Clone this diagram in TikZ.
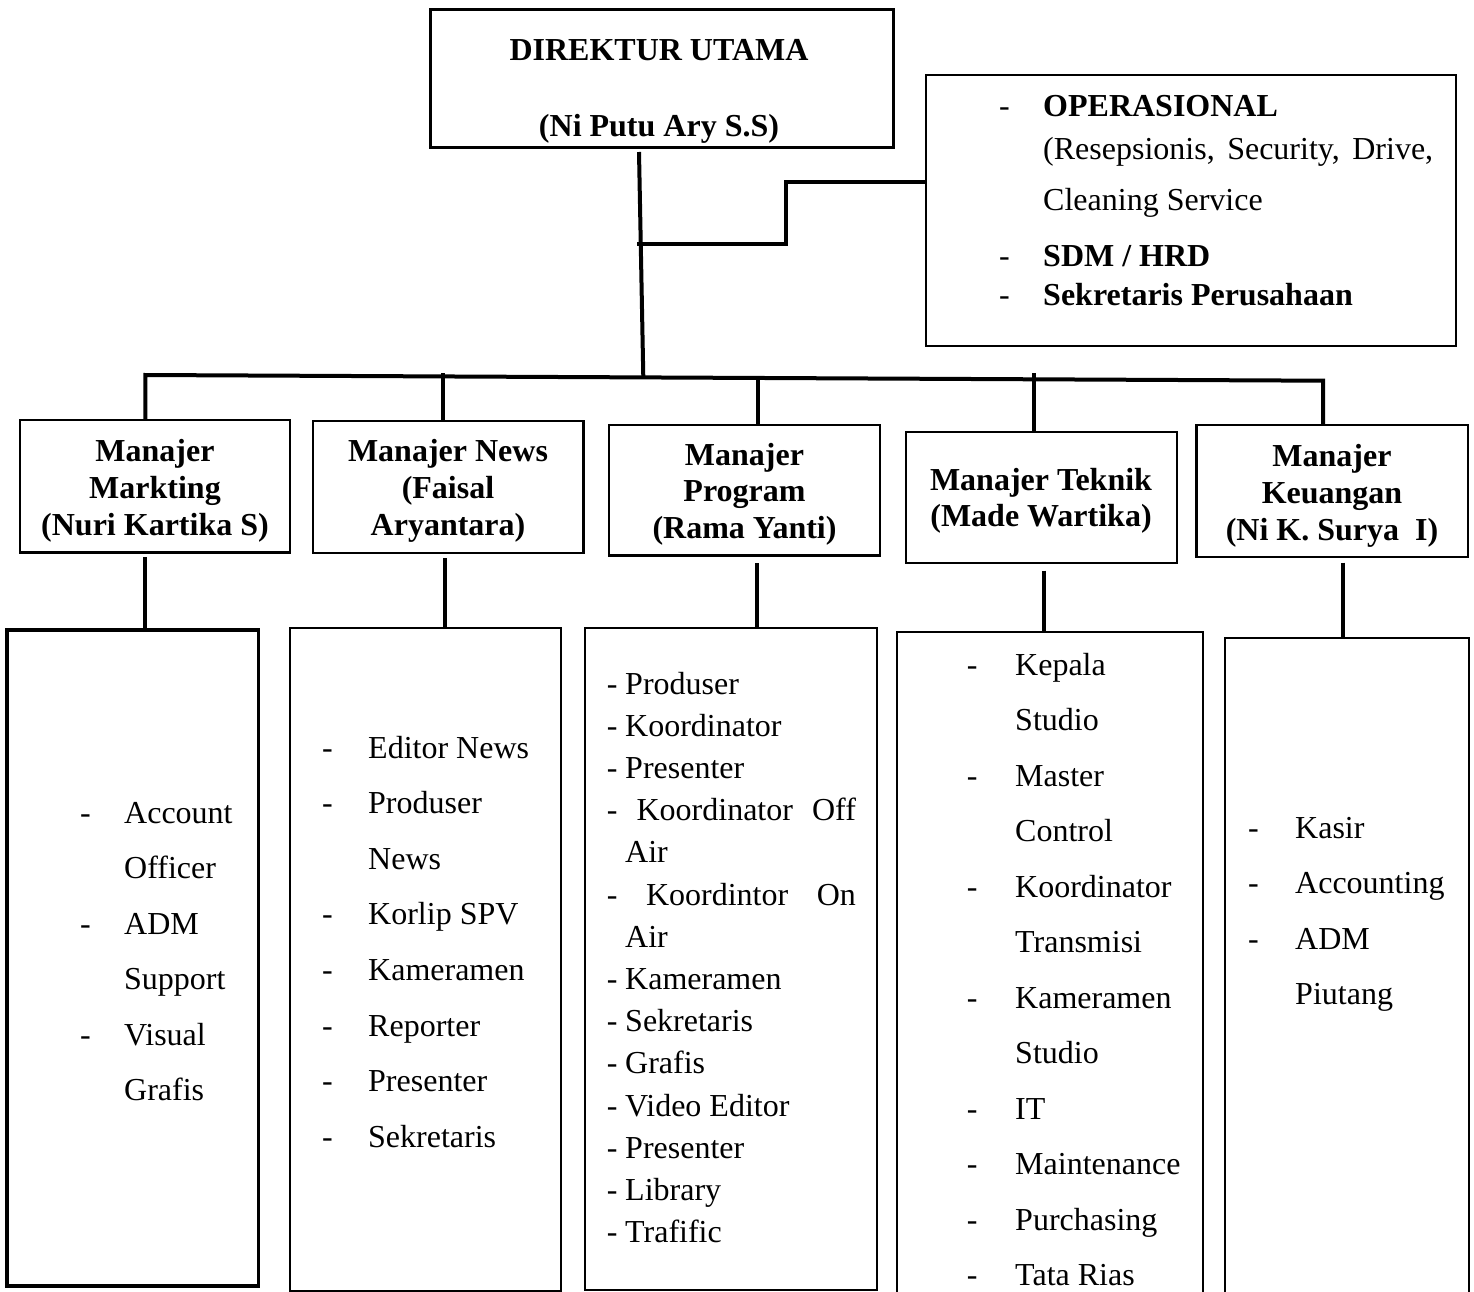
\documentclass[tikz,border=0pt]{standalone}
\usepackage{fontspec}
\setmainfont{Liberation Serif}
\newcommand\myfs{\fontsize{32}{38}\selectfont}
\tikzset{
  box/.style={draw=black, line width=2.5pt, inner sep=0pt, fill=none},
  conn/.style={draw=black, line width=4pt, line join=miter},
  txt/.style={anchor=base west, inner sep=0pt, font=\myfs},
  btxt/.style={anchor=base west, inner sep=0pt, font=\myfs\bfseries},
  ctr/.style={anchor=base, inner sep=0pt, font=\myfs\bfseries}
}
\begin{document}
\begin{tikzpicture}[x=1pt,y=-1pt]
\useasboundingbox (0,0) rectangle (1474,1292);
\fill[white] (0,0) rectangle (1474,1292);
\clip (0,0) rectangle (1474,1292);

% ---------- boxes ----------
\node[box, minimum width=463pt, minimum height=138pt, line width=3pt] (dir) at (661.5,79) {};
\node[box, minimum width=530pt, minimum height=271pt, line width=2pt] (ops) at (1191,210.5) {};

\node[box, minimum width=270pt, minimum height=132.5pt] (m1) at (155,486.25) {};
\node[box, minimum width=270.5pt, minimum height=132pt] (m2) at (448.25,487) {};
\node[box, minimum width=271pt, minimum height=130.5pt] (m3) at (744.5,490.25) {};
\node[box, minimum width=271pt, minimum height=131pt] (m4) at (1041.5,497.5) {};
\node[box, minimum width=271.5pt, minimum height=132pt] (m5) at (1332.25,491) {};

\node[box, minimum width=251.5pt, minimum height=656pt, line width=3.2pt] (b1) at (132.75,958) {};
\node[box, minimum width=271pt, minimum height=663pt] (b2) at (425.5,959.5) {};
\node[box, minimum width=292pt, minimum height=662pt] (b3) at (731,959) {};
\node[box, minimum width=306pt, minimum height=700pt] (b4) at (1050,982) {};
\node[box, minimum width=244pt, minimum height=700pt] (b5) at (1347,988) {};

% ---------- connectors ----------
\coordinate (dtop) at (639,152);
\coordinate (dj) at (643.3,377.5);
\draw[conn] (dtop) -- (dj);

\coordinate (s0) at (637,244.3);
\coordinate (s1) at (785.7,244.3);
\coordinate (s2) at (785.7,181.7);
\draw[conn] (s0) -- (s1) -- (s2) -- (s2 -| ops.west);

\coordinate (bl) at (145.3,375);
\coordinate (br) at (1323,380.7);
\draw[conn] (bl |- m1.north) -- (bl) -- (br) -- (br |- m5.north);
\coordinate (d2) at (443.4,373);
\coordinate (d3) at (757.5,377);
\coordinate (d4) at (1034,373);
\draw[conn] (d2) -- (d2 |- m2.north);
\draw[conn] (d3) -- (d3 |- m3.north);
\draw[conn] (d4) -- (d4 |- m4.north);

\coordinate (l1) at (145,557);
\coordinate (l2) at (445,558);
\coordinate (l3) at (757,563);
\coordinate (l4) at (1044,570.7);
\coordinate (l5) at (1343,562.7);
\draw[conn] (l1) -- (l1 |- b1.north);
\draw[conn] (l2) -- (l2 |- b2.north);
\draw[conn] (l3) -- (l3 |- b3.north);
\draw[conn] (l4) -- (l4 |- b4.north);
\draw[conn] (l5) -- (l5 |- b5.north);

% ---------- director ----------
\node[ctr] (dirt1) at (659,60.7) {DIREKTUR UTAMA};
\node[ctr] (dirt2) at (659,136.5) {(Ni Putu Ary S.S)};

% ---------- operasional ----------
\node[txt] (o1d) at (999,116.7) {-};
\node[btxt] (o1) at (1043,116.7) {OPERASIONAL};
\node[txt] (o2) at (1043,160) {\makebox[390pt][s]{(Resepsionis, Security, Drive,}};
\node[txt] (o3) at (1043,210) {Cleaning Service};
\node[txt] (o4d) at (999,266.7) {-};
\node[btxt] (o4) at (1043,266.7) {SDM / HRD};
\node[txt] (o5d) at (999,305) {-};
\node[btxt] (o5) at (1043,305) {Sekretaris Perusahaan};

% ---------- managers ----------
\node[ctr] (m1a) at (155,461.7) {Manajer};
\node[ctr] (m1b) at (155,498.3) {Markting};
\node[ctr] (m1c) at (155,535) {(Nuri Kartika S)};

\node[ctr] (m2a) at (448,461.7) {Manajer News};
\node[ctr] (m2b) at (448,498.3) {(Faisal};
\node[ctr] (m2c) at (448,535) {Aryantara)};

\node[ctr] (m3a) at (744.5,465) {Manajer};
\node[ctr] (m3b) at (744.5,501.7) {Program};
\node[ctr] (m3c) at (744.5,538) {(Rama Yanti)};

\node[ctr] (m4a) at (1041,490) {Manajer Teknik};
\node[ctr] (m4b) at (1041,526.7) {(Made Wartika)};

\node[ctr] (m5a) at (1332,466.7) {Manajer};
\node[ctr] (m5b) at (1332,503.3) {Keuangan};
\node[ctr] (m5c) at (1332,540) {(Ni K. Surya\ \ I)};

% ---------- box 1 ----------
\foreach \t/\d [count=\i from 0] in {Account/1,Officer/0,ADM/1,Support/0,Visual/1,Grafis/0}{
  \node[txt] (b1t\i) at (124,{823+55.5*\i}) {\t};
  \ifnum\d=1 \node[txt] (b1d\i) at (80,{823+55.5*\i}) {-}; \fi
}

% ---------- box 2 ----------
\foreach \t/\d [count=\i from 0] in {Editor News/1,Produser/1,News/0,Korlip SPV/1,Kameramen/1,Reporter/1,Presenter/1,Sekretaris/1}{
  \node[txt] (b2t\i) at (368,{758+55.6*\i}) {\t};
  \ifnum\d=1 \node[txt] (b2d\i) at (322,{758+55.6*\i}) {-}; \fi
}

% ---------- box 3 ----------
\foreach \t/\k in {Produser/0,Koordinator/1,Presenter/2,Kameramen/7,Sekretaris/8,Grafis/9,Video Editor/10,Presenter/11,Library/12,Trafific/13}{
  \node[txt] (b3t\k) at (625,{694+42.2*\k}) {\t};
  \node[txt] (b3d\k) at (606.7,{694+42.2*\k}) {-};
}
\node[txt] (b3t3) at (606.7,{694+42.2*3}) {\makebox[249pt][s]{-\ \ Koordinator\ \ Off}};
\node[txt] (b3t4) at (625,{694+42.2*4}) {Air};
\node[txt] (b3t5) at (606.7,{694+42.2*5}) {\makebox[249pt][s]{-\ \ \ Koordintor\ \ \ On}};
\node[txt] (b3t6) at (625,{694+42.2*6}) {Air};

% ---------- box 4 ----------
\foreach \t/\d [count=\i from 0] in {Kepala/1,Studio/0,Master/1,Control/0,Koordinator/1,Transmisi/0,Kameramen/1,Studio/0,IT/1,Maintenance/1,Purchasing/1,Tata Rias/1}{
  \node[txt] (b4t\i) at (1015,{675+55.5*\i}) {\t};
  \ifnum\d=1 \node[txt] (b4d\i) at (966.7,{675+55.5*\i}) {-}; \fi
}

% ---------- box 5 ----------
\foreach \t/\d [count=\i from 0] in {Kasir/1,Accounting/1,ADM/1,Piutang/0}{
  \node[txt] (b5t\i) at (1295,{838+55.5*\i}) {\t};
  \ifnum\d=1 \node[txt] (b5d\i) at (1248,{838+55.5*\i}) {-}; \fi
}
\end{tikzpicture}
\end{document}
